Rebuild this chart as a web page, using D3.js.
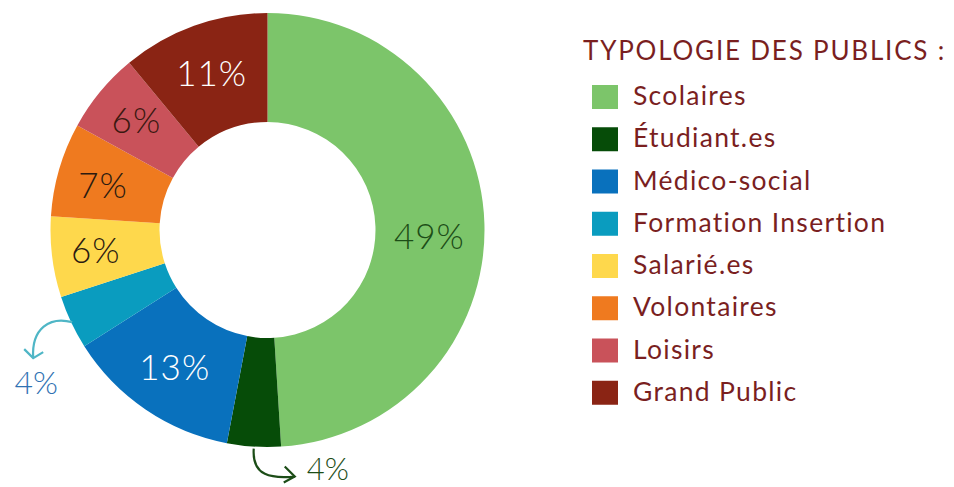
<!DOCTYPE html>
<html><head><meta charset="utf-8">
<script src="https://cdn.jsdelivr.net/npm/d3@7"></script>
<style>html,body{margin:0;padding:0;background:#fff;}svg{display:block;font-family:Lato,"Noto Sans",sans-serif;font-weight:400;}</style>
</head><body>
<svg id="c" width="954" height="487"></svg>
<script>
const categories = ["Scolaires","Étudiant.es","Médico-social","Formation Insertion","Salarié.es","Volontaires","Loisirs","Grand Public"];
const values = [49,4,13,4,6,7,6,11];
const colors = ["#7cc56a","#064c08","#0971bd","#0a9cbf","#fed84c","#ef7a1f","#c9525a","#8a2414"];
const labelColors = ["#1c4d17","#1c4d17","#ffffff","#2f72b3","#2b1a10","#2b1a10","#3a1810","#ffffff"];
const legendTitle = "TYPOLOGIE DES PUBLICS :";

const svg = d3.select("#c");
const cx = 267.5, cy = 230, R = 217, r = 108;
const g = svg.append("g").attr("transform",`translate(${cx},${cy})`);
const pie = d3.pie().sort(null).value(d=>d)(values);
const arc = d3.arc().innerRadius(r).outerRadius(R);
const labelArc = d3.arc().innerRadius(165).outerRadius(165);

g.selectAll("path.s").data(pie).join("path").attr("class","s")
  .attr("d",arc).attr("fill",(d,i)=>colors[i]);

const inside = [0,2,4,5,6,7];
const nudges = {0:[-3,10],2:[0,0],4:[-8,-2],5:[-6,0],6:[-4,-6],7:[0,-3]};
inside.forEach(i=>{
  const c = labelArc.centroid(pie[i]);
  g.append("text").attr("x",c[0]+nudges[i][0]).attr("y",c[1]+nudges[i][1])
   .attr("text-anchor","middle").attr("dominant-baseline","central")
   .attr("font-size",35).attr("font-weight",300).attr("letter-spacing",1).attr("fill",labelColors[i]).text(values[i]+"%");
});

const outerPt = (i, rad)=>d3.arc().innerRadius(rad).outerRadius(rad).centroid(pie[i]);
// Formation Insertion (index 3)
{
  const p = outerPt(3, R - 10);
  const sx = p[0]-8, sy = p[1]+4;
  const ax = p[0]-47, ay = p[1]+40;
  const path = d3.path();
  path.moveTo(sx, sy);
  path.bezierCurveTo(sx-22, sy-6, ax-2, ay-30, ax, ay);
  g.append("path").attr("d",path.toString()).attr("fill","none").attr("stroke","#4fb6c6").attr("stroke-width",2.2);
  g.append("path").attr("d",`M${ax-9},${ay-9} L${ax},${ay} L${ax+10},${ay-6}`).attr("fill","none").attr("stroke","#4fb6c6").attr("stroke-width",2.2);
  g.append("text").attr("x",p[0]-44).attr("y",p[1]+63).attr("text-anchor","middle").attr("dominant-baseline","central")
   .attr("font-size",32).attr("font-weight",300).attr("fill",labelColors[3]).text(values[3]+"%");
}
// Étudiant.es (index 1)
{
  const p = outerPt(1, R + 2);
  const ax = p[0]+41, ay = p[1]+28;
  const path = d3.path();
  path.moveTo(p[0], p[1]);
  path.bezierCurveTo(p[0]-2, p[1]+28, p[0]+18, p[1]+30, ax, ay);
  g.append("path").attr("d",path.toString()).attr("fill","none").attr("stroke","#1c4d17").attr("stroke-width",2.2);
  g.append("path").attr("d",`M${ax-10},${ay-10} L${ax},${ay} L${ax-11},${ay+6}`).attr("fill","none").attr("stroke","#1c4d17").attr("stroke-width",2.2);
  g.append("text").attr("x",p[0]+53).attr("y",p[1]+19).attr("text-anchor","start").attr("dominant-baseline","central")
   .attr("font-size",31).attr("font-weight",300).attr("fill",labelColors[1]).text(values[1]+"%");
}

// Legend
const lg = svg.append("g");
const textColor = "#7a1f1f";
lg.append("text").attr("x",583).attr("y",60).attr("font-size",26).attr("letter-spacing",1.8).attr("fill",textColor).text(legendTitle);
const ly = d3.scaleBand().domain(categories).range([78, 416]);
categories.forEach((c,i)=>{
  const y = ly(c);
  lg.append("rect").attr("x",592).attr("y",y+7).attr("width",26).attr("height",24).attr("fill",colors[i]);
  lg.append("text").attr("x",633).attr("y",y+27).attr("font-size",26.5).attr("letter-spacing",1.3).attr("fill",textColor).text(c);
});
</script>
</body></html>
